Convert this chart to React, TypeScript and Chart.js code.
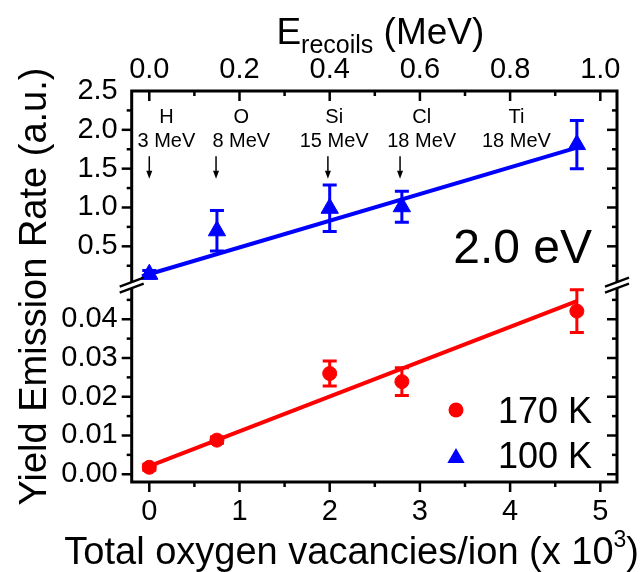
import React, { useEffect, useRef } from 'react';
import { Chart, registerables } from 'chart.js';

Chart.register(...registerables);

// ---------------- data ----------------
const vacancies = [0, 0.75, 2.0, 2.8, 4.74]; // Total oxygen vacancies/ion (x 10^3)
const rate170K = [0.0018, 0.0088, 0.026, 0.0239, 0.0421];
const err170K = [0.0008, 0.0008, 0.0032, 0.0036, 0.0055];
const rate100K = [0.14, 0.7, 0.99, 1.01, 1.81];
const err100K = [0.05, 0.26, 0.3, 0.2, 0.31];
const fit170X = [0, 4.74];
const fit170Y = [0.0021, 0.0447];
const fit100X = [-0.08, 4.74];
const fit100Y = [0.115, 1.77];

const xTicks = [0, 1, 2, 3, 4, 5];
const xMinor = [0.5, 1.5, 2.5, 3.5, 4.5];
const eTicks = [0, 0.2, 0.4, 0.6, 0.8, 1.0];
const eMinor = [0.1, 0.3, 0.5, 0.7, 0.9];
const yTopTicks = [0.5, 1.0, 1.5, 2.0, 2.5];
const yTopMinor = [0.25, 0.75, 1.25, 1.75, 2.25];
const yBotTicks = [0, 0.01, 0.02, 0.03, 0.04];
const yBotMinor = [0.005, 0.015, 0.025, 0.035, 0.045];

const ions = ['H', 'O', 'Si', 'Cl', 'Ti'];
const ionEnergies = ['3 MeV', '8 MeV', '15 MeV', '18 MeV', '18 MeV'];
const ionLabelX = [0.19, 1.02, 2.05, 3.02, 4.07];
const ionArrowX: (number | null)[] = [0, 0.74, 1.98, 2.78, null];

const legendLabels = ['170 K', '100 K'];
const panelLabel = '2.0 eV';

const RED = '#ff0000';
const BLUE = '#0000ff';
const FAM = '"Liberation Sans", Arial, Helvetica, sans-serif';
const f = (s: number) => `${s}px ${FAM}`;

const setTicks = (arr: number[]) => (scale: any) => {
  scale.ticks = arr.map((v) => ({ value: v }));
};

function drawTriangle(ctx: CanvasRenderingContext2D, x: number, y: number, r: number) {
  ctx.beginPath();
  for (let k = 0; k < 3; k++) {
    const a = (k * 2 * Math.PI) / 3;
    const px = x + Math.sin(a) * r;
    const py = y - Math.cos(a) * r;
    if (k === 0) ctx.moveTo(px, py);
    else ctx.lineTo(px, py);
  }
  ctx.closePath();
  ctx.fill();
}

const decorPlugin = {
  id: 'decor',
  beforeDatasetDraw(chart: any, args: any) {
    const ds = chart.data.datasets[args.index];
    if (!ds.errorBars) return;
    const meta = chart.getDatasetMeta(args.index);
    const ys = chart.scales[ds.yAxisID];
    const ctx: CanvasRenderingContext2D = chart.ctx;
    ctx.save();
    ctx.strokeStyle = ds.borderColor;
    ctx.lineWidth = 3;
    meta.data.forEach((pt: any, i: number) => {
      const v = ds.data[i].y;
      const e = ds.errorBars[i];
      const y1 = ys.getPixelForValue(v + e);
      const y2 = ys.getPixelForValue(v - e);
      ctx.beginPath();
      ctx.moveTo(pt.x, y1);
      ctx.lineTo(pt.x, y2);
      ctx.moveTo(pt.x - 7, y1);
      ctx.lineTo(pt.x + 7, y1);
      ctx.moveTo(pt.x - 7, y2);
      ctx.lineTo(pt.x + 7, y2);
      ctx.stroke();
    });
    ctx.restore();
  },
  afterDraw(chart: any) {
    const ctx: CanvasRenderingContext2D = chart.ctx;
    const { left, right, top, bottom } = chart.chartArea;
    const sx = chart.scales.x;
    const se = chart.scales.x2;
    const yT = chart.scales.yTop;
    const yB = chart.scales.yBot;
    const yTR = chart.scales.yTopR;
    const yBR = chart.scales.yBotR;
    ctx.save();
    ctx.strokeStyle = '#000';
    ctx.fillStyle = '#000';

    // frame
    ctx.lineWidth = 3;
    ctx.strokeRect(left, top, right - left, bottom - top);

    // ticks
    ctx.lineWidth = 2.5;
    const MAJ = 10;
    const MIN = 5;
    const hTicks = (scale: any, vals: number[], len: number, y: number, dir: number) => {
      vals.forEach((v) => {
        const p = scale.getPixelForValue(v);
        ctx.beginPath();
        ctx.moveTo(p, y);
        ctx.lineTo(p, y + dir * len);
        ctx.stroke();
      });
    };
    const vTicks = (scale: any, vals: number[], len: number, x: number, dir: number) => {
      vals.forEach((v) => {
        const p = scale.getPixelForValue(v);
        ctx.beginPath();
        ctx.moveTo(x, p);
        ctx.lineTo(x + dir * len, p);
        ctx.stroke();
      });
    };
    hTicks(sx, xTicks, MAJ, bottom, 1);
    hTicks(sx, xMinor, MIN, bottom, 1);
    hTicks(se, eTicks, MAJ, top, 1);
    hTicks(se, eMinor, MIN, top, 1);
    vTicks(yT, yTopTicks.filter((v) => v < 2.5), MAJ, left, -1);
    vTicks(yT, yTopMinor, MIN, left, -1);
    vTicks(yB, yBotTicks, MAJ, left, -1);
    vTicks(yB, yBotMinor, MIN, left, -1);
    vTicks(yTR, yTopTicks.filter((v) => v < 2.5), MAJ, right, -1);
    vTicks(yTR, yTopMinor, MIN, right, -1);
    vTicks(yBR, yBotTicks, MAJ, right, -1);
    vTicks(yBR, yBotMinor, MIN, right, -1);

    // axis breaks
    const yb = yT.bottom;
    [left, right].forEach((ax) => {
      ctx.fillStyle = '#fff';
      ctx.fillRect(ax - 3, yb - 3, 6, 6);
      ctx.strokeStyle = '#000';
      ctx.lineWidth = 2.2;
      [-3, 3].forEach((d) => {
        ctx.beginPath();
        ctx.moveTo(ax - 12, yb + d + 4.5);
        ctx.lineTo(ax + 12, yb + d - 4.5);
        ctx.stroke();
      });
    });
    ctx.fillStyle = '#000';

    // ion annotations
    ctx.font = f(20);
    ctx.textAlign = 'center';
    ctx.textBaseline = 'middle';
    ions.forEach((ion, i) => {
      const lx = sx.getPixelForValue(ionLabelX[i]);
      ctx.fillText(ion, lx, yT.getPixelForValue(2.16));
      ctx.fillText(ionEnergies[i], lx, yT.getPixelForValue(1.85));
      const ax = ionArrowX[i];
      if (ax !== null) {
        const px = sx.getPixelForValue(ax);
        const a1 = yT.getPixelForValue(1.66);
        const a2 = yT.getPixelForValue(1.37);
        ctx.lineWidth = 1.5;
        ctx.beginPath();
        ctx.moveTo(px, a1);
        ctx.lineTo(px, a2 - 6);
        ctx.stroke();
        ctx.beginPath();
        ctx.moveTo(px - 3, a2 - 8);
        ctx.lineTo(px + 3, a2 - 8);
        ctx.lineTo(px, a2);
        ctx.closePath();
        ctx.fill();
      }
    });

    // panel label
    ctx.font = f(48);
    ctx.textAlign = 'right';
    ctx.textBaseline = 'alphabetic';
    ctx.fillText(panelLabel, right - 25, yb - 22);

    // legend
    ctx.font = f(36);
    ctx.textAlign = 'left';
    ctx.fillStyle = RED;
    ctx.beginPath();
    ctx.arc(right - 161, bottom - 72, 7.5, 0, Math.PI * 2);
    ctx.fill();
    ctx.fillStyle = BLUE;
    drawTriangle(ctx, right - 161, bottom - 24, 10);
    ctx.fillStyle = '#000';
    ctx.fillText(legendLabels[0], right - 119, bottom - 59);
    ctx.fillText(legendLabels[1], right - 119, bottom - 14);

    // top title  E_recoils (MeV)
    const cx = (left + right) / 2 + 6;
    ctx.font = f(37);
    const wE = ctx.measureText('E').width;
    const wR = ctx.measureText(' (MeV)').width;
    ctx.font = f(25);
    const wS = ctx.measureText('recoils').width;
    let tx = cx - (wE + wS + wR) / 2;
    ctx.font = f(37);
    ctx.fillText('E', tx, 44);
    tx += wE;
    ctx.font = f(25);
    ctx.fillText('recoils', tx, 53);
    tx += wS;
    ctx.font = f(37);
    ctx.fillText(' (MeV)', tx, 44);

    // bottom title (right end near canvas edge)
    const main = 'Total oxygen vacancies/ion (x 10';
    ctx.font = f(38);
    const wM = ctx.measureText(main).width;
    const wP = ctx.measureText(')').width;
    ctx.font = f(23);
    const w3 = ctx.measureText('3').width;
    let bx = 639 - (wM + w3 + wP);
    ctx.font = f(38);
    ctx.fillText(main, bx, 564);
    bx += wM;
    ctx.font = f(23);
    ctx.fillText('3', bx, 547);
    bx += w3;
    ctx.font = f(38);
    ctx.fillText(')', bx, 564);

    // y title
    ctx.save();
    ctx.translate(46, (top + bottom) / 2);
    ctx.rotate(-Math.PI / 2);
    ctx.font = f(38);
    ctx.textAlign = 'center';
    ctx.textBaseline = 'alphabetic';
    ctx.fillText('Yield Emission Rate (a.u.)', 0, 0);
    ctx.restore();

    ctx.restore();
  },
};

const tickFont = { family: FAM, size: 29 };

export default function App() {
  const ref = useRef<HTMLCanvasElement | null>(null);
  useEffect(() => {
    if (!ref.current) return;
    const pts = (ys: number[]) => vacancies.map((x, i) => ({ x, y: ys[i] }));
    const line = (xs: number[], ys: number[]) => xs.map((x, i) => ({ x, y: ys[i] }));
    const hidden = { display: false, drawTicks: false };
    const chart = new Chart(ref.current, {
      type: 'scatter',
      data: {
        datasets: [
          {
            label: '170 K',
            data: pts(rate170K),
            xAxisID: 'x',
            yAxisID: 'yBot',
            showLine: false,
            pointStyle: 'circle',
            pointRadius: 7,
            pointBorderWidth: 1,
            backgroundColor: RED,
            borderColor: RED,
            errorBars: err170K,
            order: 0,
          } as any,
          {
            label: '100 K',
            data: pts(rate100K),
            xAxisID: 'x',
            yAxisID: 'yTop',
            showLine: false,
            pointStyle: 'triangle',
            pointRadius: 10,
            pointBorderWidth: 1,
            backgroundColor: BLUE,
            borderColor: BLUE,
            errorBars: err100K,
            order: 0,
          } as any,
          {
            label: 'fit 170 K',
            data: line(fit170X, fit170Y),
            xAxisID: 'x',
            yAxisID: 'yBot',
            showLine: true,
            pointRadius: 0,
            borderWidth: 4,
            borderColor: RED,
            backgroundColor: RED,
            order: 2,
          },
          {
            label: 'fit 100 K',
            data: line(fit100X, fit100Y),
            xAxisID: 'x',
            yAxisID: 'yTop',
            showLine: true,
            pointRadius: 0,
            borderWidth: 4,
            borderColor: BLUE,
            backgroundColor: BLUE,
            order: 2,
          },
        ],
      },
      options: {
        animation: false,
        responsive: false,
        devicePixelRatio: 1,
        layout: { padding: 0 },
        plugins: { legend: { display: false }, tooltip: { enabled: false } },
        scales: {
          x: {
            type: 'linear',
            position: 'bottom',
            min: -0.195,
            max: 5.185,
            afterBuildTicks: setTicks(xTicks),
            afterFit: (s: any) => {
              s.height = 90;
            },
            grid: hidden,
            border: { display: false },
            ticks: {
              font: tickFont,
              color: '#000',
              padding: 13,
              autoSkip: false,
              maxRotation: 0,
              callback: (v: any) => String(v),
            },
          },
          x2: {
            type: 'linear',
            position: 'top',
            min: -0.039,
            max: 1.037,
            afterBuildTicks: setTicks(eTicks),
            afterFit: (s: any) => {
              s.height = 91;
            },
            grid: hidden,
            border: { display: false },
            ticks: {
              font: tickFont,
              color: '#000',
              padding: 4,
              autoSkip: false,
              maxRotation: 0,
              callback: (v: any) => Number(v).toFixed(1),
            },
          },
          yBot: {
            type: 'linear',
            position: 'left',
            stack: 'L',
            stackWeight: 196.7,
            min: -0.002,
            max: 0.0488,
            afterBuildTicks: setTicks(yBotTicks),
            afterFit: (s: any) => {
              s.width = 131.7;
            },
            grid: hidden,
            border: { display: false },
            ticks: {
              font: tickFont,
              color: '#000',
              padding: 14,
              autoSkip: false,
              callback: (v: any) => Number(v).toFixed(2),
            },
          },
          yTop: {
            type: 'linear',
            position: 'left',
            stack: 'L',
            stackWeight: 194,
            min: 0,
            max: 2.5,
            afterBuildTicks: setTicks(yTopTicks),
            afterFit: (s: any) => {
              s.width = 131.7;
            },
            grid: hidden,
            border: { display: false },
            ticks: {
              font: tickFont,
              color: '#000',
              padding: 14,
              autoSkip: false,
              callback: (v: any) => Number(v).toFixed(1),
            },
          },
          yTopR: {
            type: 'linear',
            position: 'right',
            stack: 'R',
            stackWeight: 194,
            min: 0,
            max: 2.5,
            afterFit: (s: any) => {
              s.width = 26;
            },
            grid: hidden,
            border: { display: false },
            ticks: { display: false },
          },
          yBotR: {
            type: 'linear',
            position: 'right',
            stack: 'R',
            stackWeight: 196.7,
            min: -0.002,
            max: 0.0488,
            afterFit: (s: any) => {
              s.width = 26;
            },
            grid: hidden,
            border: { display: false },
            ticks: { display: false },
          },
        } as any,
      },
      plugins: [decorPlugin as any],
    });
    return () => chart.destroy();
  }, []);
  return (
    <div style={{ position: 'fixed', left: 0, top: 0, width: 643, height: 572, background: '#fff' }}>
      <canvas ref={ref} width={643} height={572} style={{ display: 'block' }} />
    </div>
  );
}
